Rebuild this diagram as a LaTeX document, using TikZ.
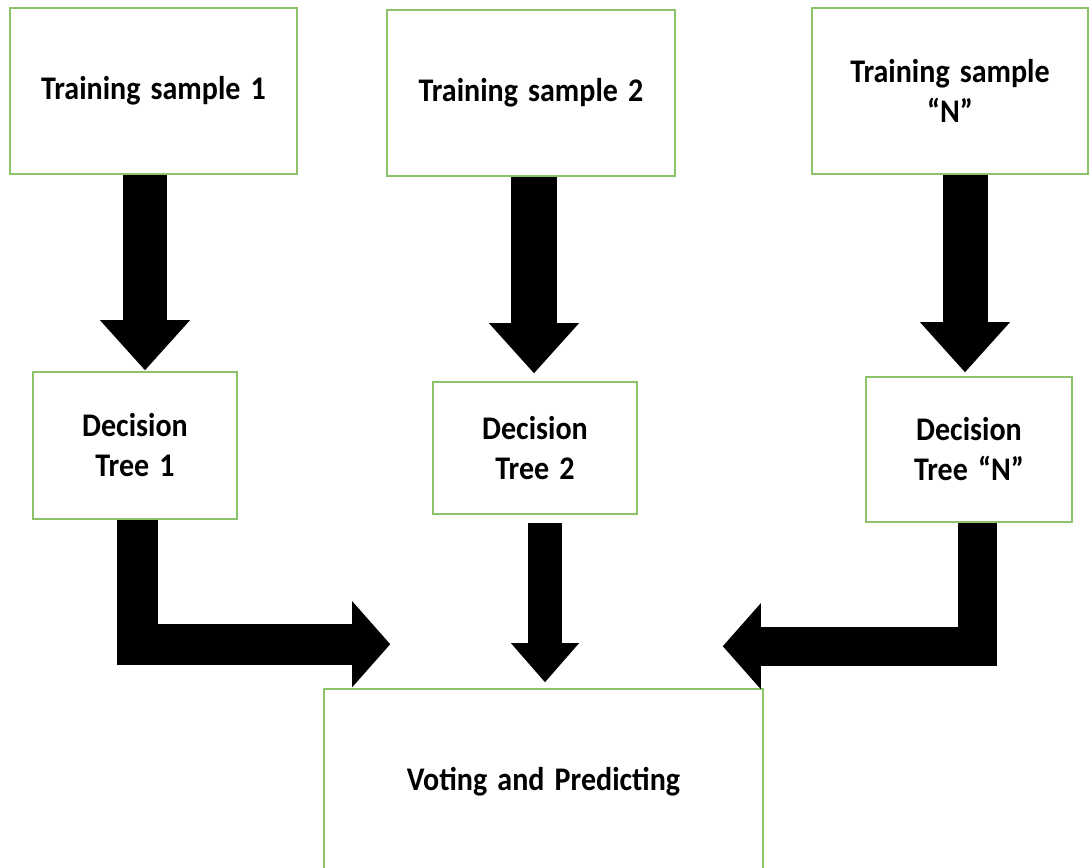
\documentclass[tikz,border=0pt]{standalone}
\usepackage{fontspec}
\setmainfont{Carlito}[FakeStretch=0.91, WordSpace=1.5]
\usetikzlibrary{arrows.meta}

\definecolor{boxgreen}{RGB}{140,194,105}

\tikzset{
  box/.style={draw=boxgreen, line width=1.6pt, fill=white, align=center,
    inner sep=0pt, font=\fontsize{33}{40}\selectfont\bfseries},
  blockarrow/.style={draw=black, line width=#1, line join=miter, line cap=butt},
  headtall/.style={-{Triangle[width=90pt,length=50pt,line width=0pt]}},
  headshort/.style={-{Triangle[width=86pt,length=38pt,line width=0pt]}},
  headsmall/.style={-{Triangle[width=68pt,length=39pt,line width=0pt]}},
}

\begin{document}
\begin{tikzpicture}[x=1pt, y=-1pt]
  \clip (0,0) rectangle (1089,867);
  \fill[white] (0,0) rectangle (1089,867);

  % training samples
  \node[box, minimum width=287pt, minimum height=166pt] (ts1) at (153.5,91) {Training sample 1};
  \node[box, minimum width=288pt, minimum height=166pt] (ts2) at (531,93) {Training sample 2};
  \node[box, minimum width=276pt, minimum height=166pt] (tsn) at (950,91) {Training sample\\“N”};

  % decision trees
  \node[box, minimum width=204pt, minimum height=147pt] (dt1) at (135,445.5) {Decision\\Tree 1};
  \node[box, minimum width=204pt, minimum height=132pt] (dt2) at (535,448) {Decision\\Tree 2};
  \node[box, minimum width=206pt, minimum height=145pt] (dtn) at (969,449.5) {Decision\\Tree “N”};

  % aggregation
  \node[box, minimum width=439pt, minimum height=186pt] (vote) at (543.5,782) {Voting and Predicting};

  % samples feed the trees
  \draw[blockarrow=44pt, headtall] ([xshift=-8.5pt]ts1.south) -- ([xshift=10pt,yshift=1pt]dt1.north);
  \draw[blockarrow=46pt, headtall] ([xshift=3pt]ts2.south) -- ([xshift=-1pt,yshift=8pt]dt2.north);
  \draw[blockarrow=45pt, headtall] ([xshift=15pt]tsn.south) -- ([xshift=-4pt,yshift=4pt]dtn.north);

  % trees feed the vote
  \draw[blockarrow=41pt, headshort] ([xshift=2pt]dt1.south) |- ([xshift=67pt,yshift=44pt]vote.north west);
  \draw[blockarrow=34pt, headsmall] ([xshift=10pt,yshift=-8pt]dt2.south) -- ([xshift=1.5pt,yshift=6pt]vote.north);
  \draw[blockarrow=39pt, headshort] ([xshift=8pt]dtn.south) |- ([xshift=-41pt,yshift=42pt]vote.north east);
\end{tikzpicture}
\end{document}
